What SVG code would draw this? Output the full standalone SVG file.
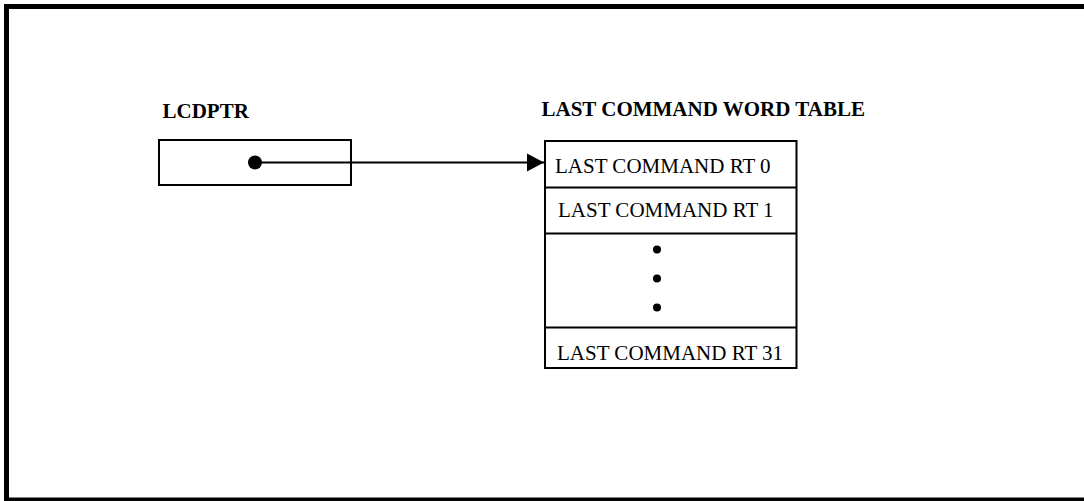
<svg xmlns="http://www.w3.org/2000/svg" width="1084" height="501" viewBox="0 0 1084 501">
  <defs>
    <style>
      .box { fill: #fff; stroke: #000; stroke-width: 2; }
      .line { fill: none; stroke: #000; stroke-width: 2; }
      .title { font-family: "Liberation Serif", "Times New Roman", serif; font-weight: bold; font-size: 21px; fill: #000; }
      .cell { font-family: "Liberation Serif", "Times New Roman", serif; font-size: 21px; fill: #000; }
    </style>
    <marker id="arrow" markerUnits="userSpaceOnUse" markerWidth="18" markerHeight="20" refX="17" refY="10" orient="auto">
      <path d="M0,1 L17,10 L0,19 Z" fill="#000"/>
    </marker>
  </defs>
  <rect x="0" y="0" width="1084" height="501" fill="#fff"/>
  <rect x="6.5" y="6.5" width="1085" height="493.5" fill="none" stroke="#000" stroke-width="5"/>

  <g id="lcdptr">
    <text class="title" x="162.5" y="117.5">LCDPTR</text>
    <rect class="box" x="159" y="140" width="192" height="45"/>
    <circle cx="255" cy="162.5" r="7" fill="#000"/>
  </g>

  <g id="last-command-table">
    <text class="title" x="541.5" y="115.5">LAST COMMAND WORD TABLE</text>
    <rect class="box" x="545" y="141" width="251.5" height="227"/>
    <line class="line" x1="545" y1="187.5" x2="796.5" y2="187.5"/>
    <line class="line" x1="545" y1="233.5" x2="796.5" y2="233.5"/>
    <line class="line" x1="545" y1="327.5" x2="796.5" y2="327.5"/>
    <text class="cell" x="555" y="173">LAST COMMAND RT 0</text>
    <text class="cell" x="558" y="217">LAST COMMAND RT 1</text>
    <circle cx="657" cy="249.5" r="4" fill="#000"/>
    <circle cx="657" cy="278.5" r="4" fill="#000"/>
    <circle cx="657" cy="307.5" r="4" fill="#000"/>
    <text class="cell" x="557" y="360">LAST COMMAND RT 31</text>
  </g>

  <g id="connectors">
    <line class="line" x1="255" y1="162.5" x2="544" y2="162.5" marker-end="url(#arrow)"/>
  </g>
</svg>
